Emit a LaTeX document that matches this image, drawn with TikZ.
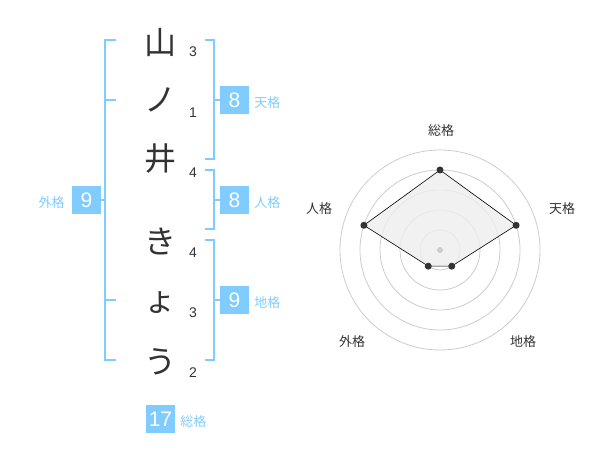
\documentclass[tikz,border=0pt]{standalone}
\usepackage{fontspec}
\setmainfont{Liberation Sans}
\newfontfamily\jpfont{Noto Sans CJK JP}
\definecolor{kakublue}{RGB}{128,204,255}
\definecolor{inkgray}{RGB}{51,51,51}
\definecolor{ringgray}{RGB}{204,204,204}
\definecolor{areagray}{RGB}{238,238,238}
\usepackage{tikz}
\usetikzlibrary{positioning}

\begin{document}
\begin{tikzpicture}[
  x=1pt, y=-1pt,
  kanji/.style={text=inkgray, inner sep=0pt, font=\jpfont\fontsize{32}{32}\selectfont},
  strokes/.style={text=inkgray, inner sep=0pt, font=\fontsize{14}{14}\selectfont},
  bracket/.style={draw=kakublue, line width=2pt},
  numbox/.style={fill=kakublue, text=white, minimum width=29pt, minimum height=28pt, inner sep=0pt, font=\fontsize{21}{21}\selectfont},
  kaku/.style={text=kakublue, inner sep=0pt, yshift=-3pt, font=\jpfont\fontsize{13}{13}\selectfont},
  axis/.style={text=inkgray, inner sep=0pt, font=\jpfont\fontsize{13}{13}\selectfont},
  ring/.style={draw=ringgray, line width=0.8pt},
  dot/.style={circle, fill=inkgray, inner sep=0pt, minimum size=7pt}
]
\useasboundingbox (0,0) rectangle (600,470);

% name, one character per line
\node[kanji] (c1) at (160,42) {山};
\node[kanji] (c2) at (160,100) {ノ};
\node[kanji] (c3) at (160,159) {井};
\node[kanji] (c4) at (160,242) {き};
\node[kanji] (c5) at (160,303) {ょ};
\node[kanji] (c6) at (160,362) {う};

\node[strokes] (s1) at (193,52) {3};
\node[strokes] (s2) at (193,113) {1};
\node[strokes] (s3) at (193,173) {4};
\node[strokes] (s4) at (193,253) {4};
\node[strokes] (s5) at (193,313) {3};
\node[strokes] (s6) at (193,373) {2};

% boxes
\node[numbox] (ten) at (234.5,100) {8};
\node[kaku, right=5pt of ten] (tenl) {天格};
\node[numbox] (jin) at (234.5,200) {8};
\node[kaku, right=5pt of jin] (jinl) {人格};
\node[numbox] (chi) at (234.5,300) {9};
\node[kaku, right=5pt of chi] (chil) {地格};
\node[numbox] (gai) at (86.5,200) {9};
\node[kaku, left=7pt of gai] (gail) {外格};
\node[numbox] (sou) at (160.5,419) {17};
\node[kaku, right=5pt of sou] (soul) {総格};

% brackets
\draw[bracket] (116,40) -- (105,40) -- (105,360) -- (116,360);
\draw[bracket] (105,100) -- (116,100);
\draw[bracket] (105,300) -- (116,300);
\draw[bracket] (gai.east) -- (105,200);
\draw[bracket] (205,40) -- (214,40) -- (214,159) -- (205,159);
\draw[bracket] (214,100) -- (ten.west);
\draw[bracket] (205,170) -- (214,170) -- (214,229) -- (205,229);
\draw[bracket] (214,200) -- (jin.west);
\draw[bracket] (205,240) -- (214,240) -- (214,360) -- (205,360);
\draw[bracket] (214,300) -- (chi.west);

% radar chart
\begin{scope}[shift={(440,250)}, y=1pt]
  \foreach \r in {20,40,60,80,100}
    \draw[ring] (0,0) circle[radius=\r];
  \coordinate (psou) at (90:80);
  \coordinate (pten) at (18:80);
  \coordinate (pchi) at (-54:20);
  \coordinate (pgai) at (-126:20);
  \coordinate (pjin) at (162:80);
  \filldraw[fill=areagray, fill opacity=0.8, draw=black, line width=0.6pt]
    (psou) -- (pten) -- (pchi) -- (pgai) -- (pjin) -- cycle;
  \foreach \p in {psou,pten,pchi,pgai,pjin}
    \node[dot] at (\p) {};
  \node[circle, fill=ringgray, inner sep=0pt, minimum size=6pt] (ctr) at (0,0) {};
  \node[axis] (asou) at (1,119) {総格};
  \node[axis] (aten) at (122,41) {天格};
  \node[axis] (ajin) at (-121,41) {人格};
  \node[axis] (achi) at (83,-92) {地格};
  \node[axis] (agai) at (-88,-92) {外格};
\end{scope}
\end{tikzpicture}
\end{document}
